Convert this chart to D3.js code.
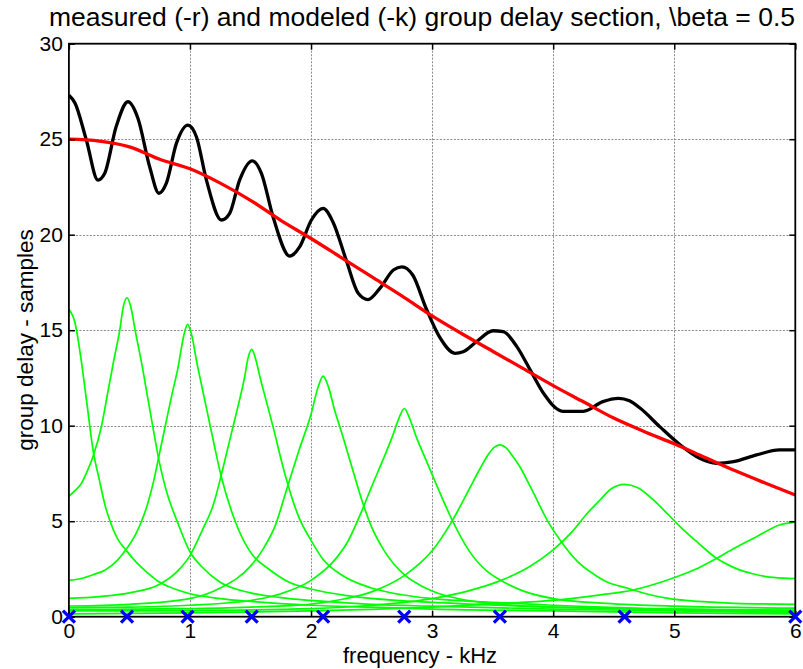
<!DOCTYPE html>
<html><head><meta charset="utf-8">
<script src="https://cdn.jsdelivr.net/npm/d3@7"></script>
<style>
body{margin:0;background:#fff}
svg{display:block}
text{font-family:"Liberation Sans",Arial,Helvetica,sans-serif;fill:#000}
</style>
</head><body>
<svg id="c" width="803" height="669"></svg>
<script>
// ---------- data ----------
const xTicks = [0, 1, 2, 3, 4, 5, 6];
const yTicks = [0, 5, 10, 15, 20, 25, 30];
const poleFreqs = [0, 0.48, 0.98, 1.51, 2.1, 2.77, 3.56, 4.59, 6.0];

const measured = [[0,25.0],[0.25,24.9],[0.5,24.6],[0.75,23.95],[1.0,23.45],[1.25,22.7],[1.5,21.8],[1.75,20.75],[2.0,19.8],[2.25,18.8],[2.5,17.8],[2.75,16.8],[3.0,15.75],[3.25,14.8],[3.5,13.9],[3.75,13.0],[4.0,12.1],[4.25,11.25],[4.5,10.4],[4.75,9.7],[5.0,9.05],[5.25,8.35],[5.5,7.65],[5.75,7.0],[6.0,6.37]];

const modeled = [[0,27.3],[0.05,26.9],[0.144,24.96],[0.24,22.86],[0.295,23.2],[0.39,25.65],[0.488,26.96],[0.57,26.1],[0.667,23.56],[0.744,22.17],[0.805,22.7],[0.888,24.78],[0.983,25.74],[1.053,25.13],[1.136,22.86],[1.26,20.77],[1.328,21.12],[1.41,22.86],[1.515,23.87],[1.59,23.21],[1.686,20.94],[1.824,18.88],[1.907,19.37],[2.003,20.77],[2.1,21.38],[2.18,20.68],[2.29,18.68],[2.39,16.93],[2.47,16.6],[2.57,17.2],[2.68,18.15],[2.75,18.32],[2.84,17.89],[2.95,16.15],[3.06,14.66],[3.19,13.79],[3.256,13.87],[3.367,14.4],[3.504,14.97],[3.587,14.92],[3.70,14.14],[3.81,12.92],[3.92,11.7],[4.08,10.75],[4.25,10.75],[4.41,11.26],[4.54,11.43],[4.63,11.3],[4.72,10.91],[4.88,9.95],[5.05,8.99],[5.21,8.29],[5.35,8.03],[5.49,8.12],[5.68,8.47],[5.87,8.73],[6.0,8.73]];

const section1 = [[0,16.1],[0.05,15.4],[0.1,13.5],[0.15,11.1],[0.2,8.7],[0.25,7.2],[0.3,5.8],[0.34,5.0],[0.4,4.1],[0.47,3.5],[0.55,2.9],[0.65,2.3],[0.75,1.8],[0.9,1.4],[1.0,1.2],[1.25,0.95],[1.5,0.8],[2,0.6],[2.5,0.5],[3,0.4],[4,0.3],[5,0.2],[6,0.15]];
const section2 = [[0,6.3],[0.05,6.6],[0.1,6.95],[0.15,7.6],[0.2,8.4],[0.27,10.0],[0.32,11.7],[0.37,13.4],[0.42,15.0],[0.45,16.25],[0.48,16.7],[0.51,16.25],[0.55,14.9],[0.6,13.3],[0.65,11.5],[0.7,9.7],[0.75,8.0],[0.8,6.7],[0.9,4.9],[1.0,3.4],[1.1,2.6],[1.25,1.8],[1.5,1.25],[1.75,1.0],[2,0.85],[2.5,0.65],[3,0.55],[4,0.4],[5,0.3],[6,0.2]];
const section3 = [[0,1.9],[0.1,2.0],[0.2,2.2],[0.3,2.45],[0.4,2.95],[0.47,3.5],[0.55,4.3],[0.6,5.0],[0.65,5.9],[0.7,7.1],[0.75,8.6],[0.8,10.1],[0.85,11.6],[0.9,13.0],[0.95,14.75],[0.98,15.3],[1.01,14.85],[1.06,13.2],[1.1,12.0],[1.15,10.5],[1.2,9.0],[1.26,7.3],[1.35,5.4],[1.45,3.9],[1.52,3.2],[1.65,2.5],[1.82,1.8],[2.0,1.45],[2.3,1.1],[2.7,0.85],[3,0.75],[4,0.5],[5,0.35],[6,0.25]];
const section4 = [[0,0.96],[0.25,1.05],[0.5,1.25],[0.75,1.7],[0.9,2.4],[1.0,3.2],[1.1,4.5],[1.2,6.0],[1.25,7.2],[1.3,8.5],[1.35,9.8],[1.4,11.1],[1.45,12.5],[1.48,13.55],[1.51,14.0],[1.54,13.55],[1.58,12.5],[1.63,11.3],[1.7,9.6],[1.75,8.3],[1.81,6.9],[1.9,5.2],[2.0,4.0],[2.1,3.0],[2.25,2.2],[2.5,1.5],[2.75,1.15],[3,0.95],[3.5,0.75],[4,0.6],[5,0.4],[6,0.3]];
const section5 = [[0,0.56],[0.5,0.65],[1.0,0.95],[1.25,1.5],[1.5,2.65],[1.6,3.5],[1.7,4.7],[1.81,6.9],[1.9,8.7],[2.0,10.6],[2.06,12.05],[2.1,12.6],[2.14,12.1],[2.2,10.7],[2.25,9.7],[2.33,8.0],[2.43,5.9],[2.5,4.7],[2.6,3.5],[2.77,2.2],[2.9,1.65],[3.0,1.35],[3.25,0.9],[3.5,0.7],[4,0.5],[5,0.4],[6,0.35]];
const section6 = [[0,0.47],[0.5,0.5],[1.0,0.6],[1.5,0.85],[1.75,1.2],[2.0,1.9],[2.2,3.0],[2.3,3.9],[2.43,5.7],[2.5,6.8],[2.6,8.3],[2.67,9.4],[2.73,10.45],[2.77,10.9],[2.81,10.45],[2.87,9.4],[2.95,8.2],[3.05,6.7],[3.17,5.0],[3.3,3.5],[3.45,2.4],[3.57,1.9],[3.75,1.35],[4.0,0.95],[4.44,0.7],[5,0.55],[6,0.45]];
const section7 = [[0,0.38],[1,0.42],[1.5,0.5],[2.0,0.66],[2.25,0.9],[2.5,1.3],[2.77,2.15],[2.9,2.8],[3.0,3.45],[3.16,4.95],[3.3,6.6],[3.4,7.8],[3.46,8.45],[3.51,8.85],[3.56,9.0],[3.61,8.85],[3.66,8.45],[3.72,7.9],[3.82,6.7],[3.96,4.95],[4.07,3.9],[4.2,2.9],[4.33,2.25],[4.45,1.8],[4.61,1.5],[4.8,1.15],[4.95,0.96],[5.2,0.8],[5.5,0.7],[6,0.65]];
const section8 = [[0,0.3],[1,0.32],[2,0.42],[2.5,0.6],[3,0.95],[3.3,1.35],[3.57,1.9],[3.8,2.6],[4.0,3.5],[4.15,4.4],[4.28,5.4],[4.4,6.2],[4.48,6.7],[4.59,6.93],[4.7,6.75],[4.83,6.1],[4.95,5.35],[5.05,4.7],[5.2,3.85],[5.34,3.1],[5.45,2.7],[5.54,2.45],[5.65,2.25],[5.76,2.1],[5.9,2.02],[6,2.0]];
const section9 = [[0,0.15],[1,0.2],[2,0.3],[2.5,0.38],[3,0.5],[3.5,0.68],[4.0,0.85],[4.39,1.14],[4.66,1.4],[5.02,2.09],[5.2,2.55],[5.35,3.05],[5.5,3.6],[5.68,4.19],[5.87,4.8],[6,4.95]];
const sections = [section1, section2, section3, section4, section5, section6, section7, section8, section9];

const titleText = "measured (-r) and modeled (-k) group delay section, \\beta = 0.5";
const xLabel = "frequency - kHz";
const yLabel = "group delay - samples";

// ---------- chart ----------
const svg = d3.select('#c');
const L = 68.9, R = 795.3, T = 43.7, B = 616.7;
const x = d3.scaleLinear().domain([0, 6]).range([L, R]);
const y = d3.scaleLinear().domain([0, 30]).range([B, T]);

// grid
const grid = svg.append('g').attr('stroke', '#8a8a8a').attr('stroke-width', 1).attr('stroke-dasharray', '2,1.5');
grid.selectAll('.gx').data(xTicks.filter(d => d > 0 && d < 6)).enter().append('line')
  .attr('x1', d => Math.round(x(d)) + 0.5).attr('x2', d => Math.round(x(d)) + 0.5).attr('y1', T).attr('y2', B);
grid.selectAll('.gy').data(yTicks.filter(d => d > 0 && d < 30)).enter().append('line')
  .attr('y1', d => Math.round(y(d)) + 0.5).attr('y2', d => Math.round(y(d)) + 0.5).attr('x1', L).attr('x2', R);

// curves
const line = d3.line().x(d => x(d[0])).y(d => y(d[1])).curve(d3.curveMonotoneX);
const gG = svg.append('g');
gG.selectAll('path').data(sections).enter().append('path')
  .attr('d', line).attr('fill', 'none').attr('stroke', '#00ff00').attr('stroke-width', 1.7);

svg.append('path').attr('d', line(modeled)).attr('fill', 'none').attr('stroke', '#000').attr('stroke-width', 3.3).attr('stroke-linejoin', 'round');
svg.append('path').attr('d', line(measured)).attr('fill', 'none').attr('stroke', '#ff0000').attr('stroke-width', 3.3).attr('stroke-linejoin', 'round');

// axes (ticks inward)
const fs = 21;
const ax = svg.append('g').attr('transform', `translate(0,${B})`)
  .call(d3.axisBottom(x).tickValues(xTicks).tickSize(-6).tickPadding(6).tickFormat(d3.format('d')));
const ay = svg.append('g').attr('transform', `translate(${L},0)`)
  .call(d3.axisLeft(y).tickValues(yTicks).tickSize(-6).tickPadding(6).tickFormat(d3.format('d')));
const at = svg.append('g').attr('transform', `translate(0,${T})`)
  .call(d3.axisTop(x).tickValues(xTicks).tickSize(-6).tickFormat(''));
const ar = svg.append('g').attr('transform', `translate(${R},0)`)
  .call(d3.axisRight(y).tickValues(yTicks).tickSize(-6).tickFormat(''));
[ax, ay, at, ar].forEach(a => {
  a.select('.domain').remove();
  a.selectAll('line').attr('stroke', '#000').attr('stroke-width', 1.5);
  a.selectAll('text').attr('font-size', fs).attr('font-family', '"Liberation Sans",Arial,sans-serif').attr('fill', '#000');
});

// frame
svg.append('rect').attr('x', L).attr('y', T).attr('width', R - L).attr('height', B - T)
  .attr('fill', 'none').attr('stroke', '#000').attr('stroke-width', 1.8);

// pole markers
svg.append('g').selectAll('path').data(poleFreqs).enter().append('path')
  .attr('d', d => { const cx = x(d), cy = y(0), s = 6; return `M${cx-s},${cy-s}L${cx+s},${cy+s}M${cx-s},${cy+s}L${cx+s},${cy-s}`; })
  .attr('stroke', '#0000ff').attr('stroke-width', 3.3).attr('fill', 'none');

// labels
svg.append('text').attr('x', 422).attr('y', 26).attr('text-anchor', 'middle').attr('font-size', 26.5).text(titleText);
svg.append('text').attr('x', 420).attr('y', 663).attr('text-anchor', 'middle').attr('font-size', 22).text(xLabel);
svg.append('text').attr('transform', `translate(33,340) rotate(-90)`).attr('text-anchor', 'middle').attr('font-size', 22.5).text(yLabel);
</script>
</body></html>
